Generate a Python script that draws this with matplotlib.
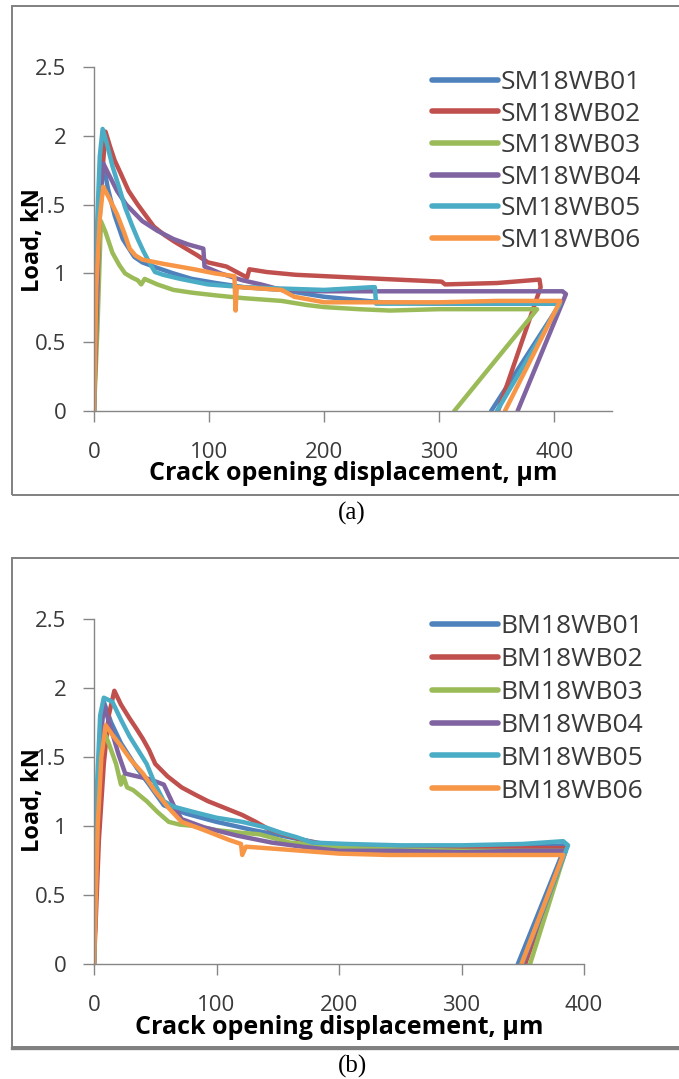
import matplotlib
matplotlib.use('Agg')
import matplotlib.pyplot as plt
from matplotlib.patches import Rectangle
from matplotlib.lines import Line2D

# ---------------- data ----------------
labels_a = ['SM18WB01', 'SM18WB02', 'SM18WB03', 'SM18WB04', 'SM18WB05', 'SM18WB06']
labels_b = ['BM18WB01', 'BM18WB02', 'BM18WB03', 'BM18WB04', 'BM18WB05', 'BM18WB06']
colors = ['#4F81BD', '#C0504D', '#9BBB59', '#8064A2', '#4BACC6', '#F79646']

# Panel (a)
sm01_x = [0, 2, 5, 8, 12, 18, 25, 35, 42, 55, 69, 85, 106, 130, 163, 200, 250, 300, 350, 405, 345]
sm01_y = [0, 0.8, 1.5, 1.8, 1.62, 1.42, 1.25, 1.12, 1.08, 1.04, 1.0, 0.96, 0.93, 0.9, 0.88, 0.83, 0.79, 0.78, 0.78, 0.78, 0]
sm02_x = [0, 3, 6, 10, 14, 18, 23, 30, 38, 45, 52, 61, 70, 80, 90, 99, 115, 133, 135, 150, 175, 200, 250, 302, 305, 350, 387, 388, 351]
sm02_y = [0, 1.0, 1.6, 2.03, 1.92, 1.82, 1.73, 1.6, 1.5, 1.42, 1.34, 1.28, 1.23, 1.18, 1.13, 1.08, 1.05, 0.97, 1.03, 1.01, 0.99, 0.98, 0.96, 0.94, 0.92, 0.93, 0.955, 0.9, 0]
sm03_x = [0, 3, 6, 10, 16, 22, 27, 33, 38, 41, 44, 55, 69, 85, 106, 130, 163, 185, 200, 230, 257, 300, 350, 385, 313]
sm03_y = [0, 0.6, 1.38, 1.3, 1.15, 1.06, 1.0, 0.97, 0.95, 0.92, 0.96, 0.92, 0.88, 0.86, 0.84, 0.82, 0.8, 0.77, 0.755, 0.74, 0.73, 0.74, 0.74, 0.74, 0]
sm04_x = [0, 3, 5, 8, 14, 20, 28, 35, 42, 55, 69, 82, 95, 96, 110, 129, 145, 163, 200, 242, 300, 350, 407, 410, 368]
sm04_y = [0, 0.9, 1.5, 1.8, 1.7, 1.6, 1.5, 1.44, 1.38, 1.31, 1.25, 1.21, 1.18, 1.05, 1.0, 0.95, 0.92, 0.88, 0.87, 0.87, 0.87, 0.87, 0.87, 0.85, 0]
sm05_x = [0, 2, 5, 7.5, 11, 16, 22, 27, 33, 38, 43, 48, 53, 60, 75, 99, 130, 163, 200, 242, 244, 245, 300, 350, 405, 350]
sm05_y = [0, 1.2, 1.85, 2.05, 1.95, 1.78, 1.62, 1.48, 1.35, 1.25, 1.16, 1.08, 1.01, 0.99, 0.96, 0.92, 0.9, 0.89, 0.88, 0.9, 0.9, 0.78, 0.78, 0.78, 0.78, 0]
sm06_x = [0, 2, 5, 8, 13, 20, 26, 31, 36, 42, 60, 87, 105, 122, 123, 124, 126, 145, 163, 174, 200, 250, 300, 350, 405, 357]
sm06_y = [0, 0.9, 1.4, 1.63, 1.55, 1.43, 1.3, 1.18, 1.13, 1.1, 1.07, 1.03, 1.0, 0.98, 0.73, 0.9, 0.9, 0.89, 0.88, 0.83, 0.79, 0.79, 0.79, 0.8, 0.8, 0]

# Panel (b)
bm01_x = [0, 3, 5, 8, 14, 22, 35, 45, 57, 75, 100, 130, 170, 200, 250, 300, 350, 385, 346]
bm01_y = [0, 1.0, 1.6, 1.9, 1.75, 1.6, 1.42, 1.3, 1.15, 1.09, 1.03, 0.97, 0.9, 0.85, 0.85, 0.85, 0.85, 0.86, 0]
bm02_x = [0, 4, 8, 12, 16.6, 22, 29, 35, 40, 45, 50, 60, 71.5, 82, 93, 107, 121, 132, 142, 155, 170, 185, 199, 250, 300, 350, 385, 352]
bm02_y = [0, 0.9, 1.45, 1.8, 1.98, 1.88, 1.78, 1.7, 1.63, 1.55, 1.45, 1.36, 1.28, 1.23, 1.18, 1.13, 1.08, 1.03, 0.98, 0.94, 0.9, 0.87, 0.85, 0.84, 0.84, 0.84, 0.84, 0]
bm03_x = [0, 3, 6, 12, 18, 22, 24, 27, 32, 43, 52, 61, 70, 82, 100, 121, 135, 160, 206, 250, 300, 350, 385, 356]
bm03_y = [0, 1.1, 1.73, 1.6, 1.45, 1.3, 1.36, 1.28, 1.26, 1.18, 1.1, 1.03, 1.01, 1.0, 0.97, 0.95, 0.94, 0.88, 0.84, 0.83, 0.82, 0.82, 0.82, 0]
bm04_x = [0, 3, 5, 8, 14, 20, 25.5, 35, 45, 57, 65, 71.5, 90, 117, 145, 170, 200, 250, 300, 350, 385, 350]
bm04_y = [0, 1.0, 1.6, 1.88, 1.7, 1.52, 1.38, 1.36, 1.34, 1.3, 1.15, 1.05, 0.99, 0.93, 0.88, 0.85, 0.82, 0.82, 0.81, 0.82, 0.82, 0]
bm05_x = [0, 2, 5, 8, 15, 22, 29, 36, 43, 50, 57, 65, 82, 100, 121, 140, 153, 165, 178, 206, 250, 300, 350, 383, 387, 349]
bm05_y = [0, 1.2, 1.8, 1.93, 1.9, 1.77, 1.65, 1.55, 1.45, 1.3, 1.18, 1.14, 1.1, 1.06, 1.03, 0.99, 0.95, 0.92, 0.88, 0.87, 0.86, 0.86, 0.87, 0.89, 0.86, 0]
bm06_x = [0, 3, 6, 9.5, 15, 22, 30, 40, 50, 61, 71.5, 90, 110, 120, 121, 124, 140, 170, 200, 241, 300, 350, 383, 349]
bm06_y = [0, 1.0, 1.5, 1.73, 1.66, 1.58, 1.48, 1.38, 1.25, 1.13, 1.03, 0.97, 0.9, 0.87, 0.79, 0.85, 0.84, 0.82, 0.8, 0.79, 0.79, 0.79, 0.79, 0]

xa_ticks = [0, 100, 200, 300, 400]
xb_ticks = [0, 100, 200, 300, 400]
y_ticks = [0, 0.5, 1, 1.5, 2, 2.5]
y_ticklabels = ['0', '0.5', '1', '1.5', '2', '2.5']
xlabel = 'Crack opening displacement, \u00b5m'
ylabel = 'Load, kN'

series_a = [(sm01_x, sm01_y), (sm02_x, sm02_y), (sm03_x, sm03_y),
            (sm04_x, sm04_y), (sm05_x, sm05_y), (sm06_x, sm06_y)]
series_b = [(bm01_x, bm01_y), (bm02_x, bm02_y), (bm03_x, bm03_y),
            (bm04_x, bm04_y), (bm05_x, bm05_y), (bm06_x, bm06_y)]

# ---------------- layout ----------------
W, H = 679, 1079
plt.rcParams['font.family'] = ['Open Sans', 'DejaVu Sans']
fig = plt.figure(figsize=(W / 100, H / 100), dpi=100)
fig.patch.set_facecolor('white')


def rect(l, r, t, b):
    return [l / W, 1 - b / H, (r - l) / W, (b - t) / H]


AX_GREY = '#868686'
TXT = '#3a3a3a'


def style(ax, xmax, xticks, ylab_x, ylab_y, legend_top, lspace, labels, series):
    for (x, y), c, lab in zip(series, colors, labels):
        ax.plot(x, y, color=c, lw=3.2, label=lab, solid_joinstyle='round',
                solid_capstyle='round')
    ax.set_xlim(0, xmax)
    ax.set_ylim(0, 2.5)
    ax.set_xticks(xticks)
    ax.set_yticks(y_ticks)
    ax.set_yticklabels(y_ticklabels)
    for s in ['top', 'right']:
        ax.spines[s].set_visible(False)
    for s in ['left', 'bottom']:
        ax.spines[s].set_color(AX_GREY)
        ax.spines[s].set_linewidth(1.0)
    ax.tick_params(axis='both', direction='out', length=8, width=1.0,
                   color=AX_GREY, labelcolor=TXT, labelsize=16)
    ax.tick_params(axis='x', pad=14)
    ax.tick_params(axis='y', pad=12)
    ax.set_xlabel(xlabel, fontsize=18, fontweight='bold', color='black')
    ax.xaxis.set_label_coords(0.5, -0.183)
    ax.xaxis.label.set_va('center')
    ax.set_ylabel(ylabel, fontsize=17, fontweight='bold', color='black')
    ax.yaxis.set_label_coords(ylab_x, ylab_y)
    ax.yaxis.label.set_va('center')
    ax.patch.set_alpha(0)
    leg = ax.legend(loc='upper left', bbox_to_anchor=(432 / W, 1 - legend_top / H),
                    bbox_transform=fig.transFigure, frameon=False, fontsize=19,
                    handlelength=2.5, handletextpad=0.1, labelspacing=lspace,
                    borderpad=0, borderaxespad=0)
    for t in leg.get_texts():
        t.set_color(TXT)
    for ln in leg.get_lines():
        ln.set_linewidth(4)
        ln.set_solid_capstyle('round')


# frames
fig.patches.append(Rectangle((12 / W, 1 - 495 / H), (W + 20 - 12) / W, (495 - 6) / H,
                             transform=fig.transFigure, fill=False,
                             edgecolor='#808080', lw=1.4, zorder=0))
fig.patches.append(Rectangle((12 / W, 1 - 1047 / H), (W + 20 - 12) / W, (1047 - 558) / H,
                             transform=fig.transFigure, fill=False,
                             edgecolor='#808080', lw=1.4, zorder=0))
fig.add_artist(Line2D([12 / W, 1.0], [1 - 1047.5 / H, 1 - 1047.5 / H],
                      transform=fig.transFigure, color='#808080', lw=2.4))

axa = fig.add_axes(rect(94, 612, 67, 411))
style(axa, 450, xa_ticks, (33 - 94) / 518, 0.497, 70, 0.25, labels_a, series_a)

axb = fig.add_axes(rect(94, 584, 619, 964))
style(axb, 400, xb_ticks, (33 - 94) / 490, 0.475, 614, 0.3, labels_b, series_b)

fig.text(352 / W, 1 - 513 / H, '(a)', ha='center', va='center',
         fontsize=18, family='Liberation Serif', color='black')
fig.text(352 / W, 1 - 1066 / H, '(b)', ha='center', va='center',
         fontsize=18, family='Liberation Serif', color='black')

fig.savefig('out.png', dpi=100, facecolor='white')
